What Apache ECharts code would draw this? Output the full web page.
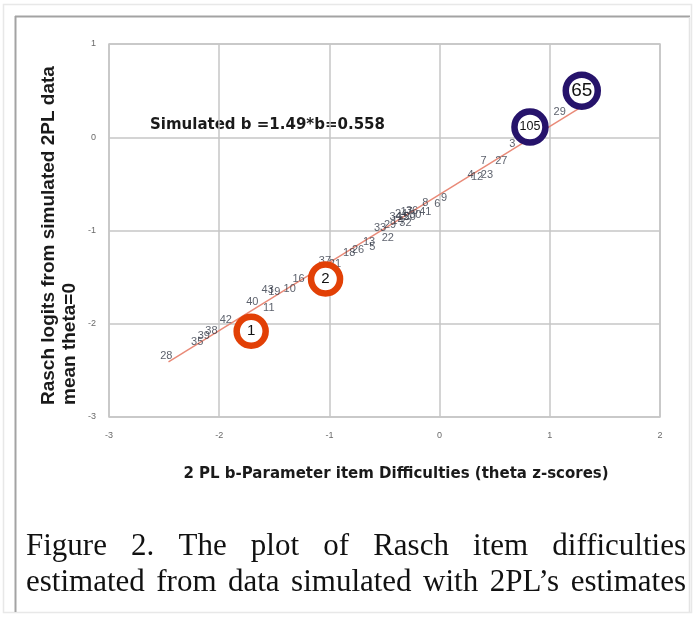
<!DOCTYPE html>
<html>
<head>
<meta charset="utf-8">
<script src="https://cdn.jsdelivr.net/npm/echarts@6/dist/echarts.min.js"></script>
<style>html,body{margin:0;padding:0;background:#fff;}#c{width:695px;height:621px;}</style>
</head>
<body>
<div id="c"></div>
<script>
// Item labels and their (2PL b, Rasch logit) coordinates
const itemIds = ['28','35','39','38','42','40','11','43','19','10','16','37','21','18','26','13','5','33','22','29','14','15','17','20','24','30','32','34','36','41','8','9','6','4','12','23','7','27','3','29'];
const bValues = [-2.48,-2.20,-2.14,-2.07,-1.94,-1.70,-1.55,-1.56,-1.50,-1.36,-1.28,-1.04,-0.95,-0.82,-0.74,-0.64,-0.61,-0.54,-0.47,-0.45,-0.38,-0.33,-0.30,-0.27,-0.35,-0.22,-0.31,-0.40,-0.25,-0.13,-0.13,0.04,-0.02,0.28,0.34,0.43,0.40,0.56,0.66,1.09];
const raschValues = [-2.35,-2.20,-2.13,-2.08,-1.96,-1.77,-1.83,-1.64,-1.66,-1.63,-1.52,-1.33,-1.36,-1.24,-1.21,-1.12,-1.18,-0.97,-1.08,-0.94,-0.90,-0.85,-0.80,-0.86,-0.82,-0.83,-0.92,-0.86,-0.79,-0.80,-0.70,-0.65,-0.72,-0.40,-0.43,-0.40,-0.25,-0.25,-0.07,0.27];

// Regression line endpoints
const trendX = [-2.46, 1.28];
const trendY = [-2.41, 0.32];

// Highlighted items (circled)
const circleIds = ['1','2','105','65'];
const circleX = [-1.71, -1.035, 0.82, 1.29];
const circleY = [-2.08, -1.52, 0.11, 0.50];
const circleGroup = ['red','red','purple','purple'];

// Axis ticks
const xTicks = [-3,-2,-1,0,1,2];
const yTicks = [-3,-2,-1,0,1];

// Caption lines
const captionLines = ['Figure 2. The plot of Rasch item difficulties',
                      'estimated from data simulated with 2PL’s estimates'];

const chart = echarts.init(document.getElementById('c'), null, {renderer:'canvas'});

const colors = {red:'#e24006', purple:'#26136b'};
const circleSizes = {'1':29,'2':29,'105':31,'65':32};
const circleFont = {'1':15,'2':15,'105':12.5,'65':19};

// justified caption layout
const serif = '31px "Liberation Serif"';
const capLeft = 26, capRight = 686, capY = [547, 583];
const mctx = document.createElement('canvas').getContext('2d');
mctx.font = serif;
const captionGraphics = [];
captionLines.forEach((line, li) => {
  const words = line.split(' ');
  const widths = words.map(w => mctx.measureText(w).width);
  const total = widths.reduce((a,b)=>a+b,0);
  const gap = (capRight - capLeft - total) / (words.length - 1);
  let x = capLeft;
  words.forEach((w, wi) => {
    captionGraphics.push({type:'text',x:x,y:capY[li],style:{text:w,font:serif,fill:'#111',textVerticalAlign:'middle'}});
    x += widths[wi] + gap;
  });
});

const option = {
  animation:false,
  backgroundColor:'#ffffff',
  grid:{left:109,right:35,top:44,bottom:204,show:true,borderColor:'#c6c6c6',borderWidth:1.5},
  xAxis:{type:'value',min:xTicks[0],max:xTicks[xTicks.length-1],interval:1,
    axisLine:{show:false},axisTick:{show:false},
    splitLine:{lineStyle:{color:'#c6c6c6',width:1.5}},
    axisLabel:{margin:14,fontSize:9,color:'#6a6a6a',fontFamily:'Liberation Sans'}},
  yAxis:{type:'value',min:yTicks[0],max:yTicks[yTicks.length-1],interval:1,
    axisLine:{show:false},axisTick:{show:false},
    splitLine:{lineStyle:{color:'#c6c6c6',width:1.5}},
    axisLabel:{margin:13,fontSize:9,color:'#6a6a6a',fontFamily:'Liberation Sans'}},
  series:[
    {type:'line',data:trendX.map((x,i)=>[x,trendY[i]]),symbol:'none',
     lineStyle:{color:'#e98a78',width:1.5},z:2,silent:true},
    {type:'scatter',data:bValues.map((x,i)=>[x,raschValues[i],itemIds[i]]),
     symbolSize:1,itemStyle:{color:'rgba(0,0,0,0)'},z:3,
     label:{show:true,position:'inside',formatter:p=>p.data[2],fontSize:11,
       color:'#323846',fontFamily:'Liberation Sans'}},
    {type:'scatter',z:5,
     data:circleX.map((x,i)=>({value:[x,circleY[i],circleIds[i]],
       symbolSize:circleSizes[circleIds[i]],
       itemStyle:{color:'#ffffff',opacity:1,borderColor:colors[circleGroup[i]],borderWidth:6.5},
       label:{fontSize:circleFont[circleIds[i]]}})),
     itemStyle:{opacity:1},
     label:{show:true,position:'inside',formatter:p=>p.data.value[2],color:'#111111',fontFamily:'Liberation Sans'}}
  ],
  graphic:[
    {type:'rect',shape:{x:3.5,y:4.5,width:688,height:608},style:{fill:'none',stroke:'#e8e8e8',lineWidth:1.5},z:-1},
    {type:'line',shape:{x1:15,y1:16.5,x2:690,y2:16.5},style:{stroke:'#a3a3a3',lineWidth:2}},
    {type:'line',shape:{x1:15.5,y1:16,x2:15.5,y2:612},style:{stroke:'#a3a3a3',lineWidth:2}},
    {type:'line',shape:{x1:689.5,y1:17,x2:689.5,y2:612},style:{stroke:'#e4e4e4',lineWidth:1.5}},
    {type:'text',x:150,y:125,style:{text:'Simulated b =1.49*b=0.558',fontFamily:'DejaVu Sans',fontWeight:'bold',fontSize:15,fill:'#1a1a1a',textVerticalAlign:'middle'}},
    {type:'text',x:396,y:474,style:{text:'2 PL b-Parameter item Difficulties (theta z-scores)',fontFamily:'DejaVu Sans',fontWeight:'bold',fontSize:15,fill:'#1a1a1a',textAlign:'center',textVerticalAlign:'middle'}},
    {type:'text',x:59,y:405,rotation:Math.PI/2,style:{text:'Rasch logits from simulated 2PL data\nmean theta=0',fontFamily:'Liberation Sans',fontWeight:'bold',fontSize:19,lineHeight:21,fill:'#1a1a1a',textAlign:'left',textVerticalAlign:'middle'}}
  ].concat(captionGraphics)
};
chart.setOption(option);
</script>
</body>
</html>
